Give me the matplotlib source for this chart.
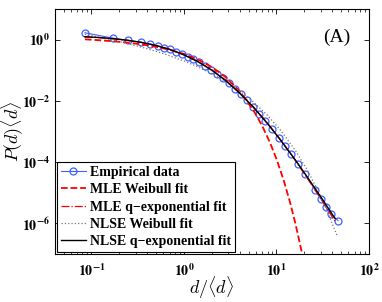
import numpy as np
import matplotlib
matplotlib.use('Agg')
import matplotlib.pyplot as plt
from matplotlib.ticker import FuncFormatter, NullLocator, LogLocator

# empirical distribution
emp_x = [0.085, 0.171, 0.248, 0.343, 0.429, 0.524, 0.608, 0.706, 0.819, 0.951,
         1.105, 1.251, 1.453, 1.687, 1.958, 2.274, 2.640, 3.065, 3.559, 4.133,
         4.80, 5.57, 6.47, 7.51, 8.94, 10.6, 12.4, 14.3, 17.1, 20.3,
         26.1, 30.3, 34.3, 38.8, 46.2]
emp_y = [1.68, 1.12, 0.95, 0.83, 0.73, 0.63, 0.55, 0.48, 0.40, 0.335,
         0.27, 0.23, 0.18, 0.1405, 0.1051, 0.0764, 0.0541, 0.0373, 0.0250, 0.0163,
         0.01035, 0.00642, 0.00387, 0.00229, 1.20e-3, 6.25e-4, 3.34e-4, 1.87e-4, 8.8e-5, 4.2e-5,
         1.25e-5, 6.2e-6, 3.3e-6, 2.0e-6, 1.24e-6]

# fitted curves, sampled from the figure
fit_x = [0.085, 0.12, 0.17, 0.25, 0.35, 0.5, 0.7, 1.0, 1.4, 2.0,
         2.8, 4.0, 5.6, 8.0, 11, 16, 22, 32, 43]
nlse_q = [1.25, 1.178, 1.083, 0.949, 0.809, 0.643, 0.481, 0.320, 0.195, 0.1006,
          0.0469, 0.01795, 0.00631, 0.00182, 5.39e-4, 1.17e-4, 2.97e-5, 5.57e-6, 1.43e-6]
mle_q = [1.23, 1.16, 1.07, 0.94, 0.805, 0.645, 0.487, 0.327, 0.2, 0.104,
         0.0488, 0.0188, 0.0066, 0.00188, 5.4e-4, 1.12e-4, 2.7e-5, 4.8e-6, 1.15e-6]

nw_x = [0.085, 0.12, 0.17, 0.25, 0.35, 0.5, 0.7, 1.0, 1.4, 2.0,
        2.8, 4.0, 5.6, 8.0, 11, 16, 22, 32, 45]
nlse_w = [1.49, 1.212, 0.968, 0.737, 0.567, 0.416, 0.2994, 0.2016, 0.1313, 0.0776,
          0.0434, 0.02106, 9.37e-3, 3.37e-3, 1.132e-3, 2.41e-4, 4.93e-5, 5.12e-6, 4.11e-7]

mw_x = [0.085, 0.12, 0.17, 0.25, 0.35, 0.5, 0.7, 1.0, 1.4, 2.0,
        2.8, 4.0, 5.6, 7.0, 8.5, 10, 12, 14, 16, 18, 20, 22]
mle_w = [1.026, 0.963, 0.890, 0.795, 0.700, 0.586, 0.469, 0.342, 0.2287, 0.1281,
         0.0608, 0.02064, 5.10e-3, 1.54e-3, 4.38e-4, 1.265e-4, 2.47e-5, 4.92e-6, 9.97e-7, 2.05e-7,
         4.28e-8, 9.04e-9]

plt.rcParams['mathtext.fontset'] = 'stix'
plt.rcParams['font.family'] = ['Liberation Serif', 'DejaVu Serif']

fig = plt.figure(figsize=(3.82, 3.02), dpi=100)
ax = fig.add_axes([0.143, 0.159, 0.823, 0.811])

ax.plot(emp_x, emp_y, '-o', color='#3f5fff', lw=0.8, ms=5, mfc='none', mew=0.9,
        label='Empirical data')
ax.plot(mw_x, mle_w, '--', color='#ff0000', lw=1.3, label='MLE Weibull fit')
ax.plot(fit_x, mle_q, '-.', color='#ff0000', lw=0.9, label='MLE q\u2212exponential fit')
ax.plot(nw_x, nlse_w, ':', color='#777777', lw=0.9, label='NLSE Weibull fit')
ax.plot(fit_x, nlse_q, '-', color='black', lw=1.0, label='NLSE q\u2212exponential fit')

ax.set_xscale('log')
ax.set_yscale('log')
ax.set_xlim(0.04, 100)
ax.set_ylim(1e-7, 10)

ax.set_yticks([1e-6, 1e-4, 1e-2, 1e0])
ax.yaxis.set_minor_locator(NullLocator())
ax.set_xticks([0.1, 1, 10, 100])
ax.xaxis.set_minor_locator(LogLocator(base=10, subs=np.arange(2, 10)))
fmt = FuncFormatter(lambda v, p: r'$\mathbf{10^{%d}}$' % int(round(np.log10(v))))
ax.xaxis.set_major_formatter(fmt)
ax.yaxis.set_major_formatter(fmt)
ax.tick_params(which='both', direction='in', top=True, right=True, labelsize=10)
ax.tick_params(which='major', length=3.5, width=0.6)
ax.tick_params(which='minor', length=2, width=0.5)
ax.tick_params(axis='x', pad=6)
for s in ax.spines.values():
    s.set_linewidth(0.8)

ax.set_xlabel(r'$d/\langle d\rangle$', fontsize=13, math_fontfamily='cm', labelpad=-3.5)
ax.set_ylabel(r'$P(d)\langle d\rangle$', fontsize=13, math_fontfamily='cm', labelpad=-3)

ax.text(0.898, 0.885, '(A)', transform=ax.transAxes, fontsize=14,
        ha='center', va='center')

leg = ax.legend(loc='lower left', bbox_to_anchor=(0.006, 0.008), borderaxespad=0,
                fancybox=False, edgecolor='black', framealpha=1,
                prop={'family': 'Liberation Serif', 'weight': 'bold', 'size': 10},
                handlelength=1.8, handletextpad=0.3, labelspacing=0.3,
                borderpad=0.3, numpoints=1)
leg.get_frame().set_linewidth(0.8)

fig.savefig('out.png', dpi=100)
